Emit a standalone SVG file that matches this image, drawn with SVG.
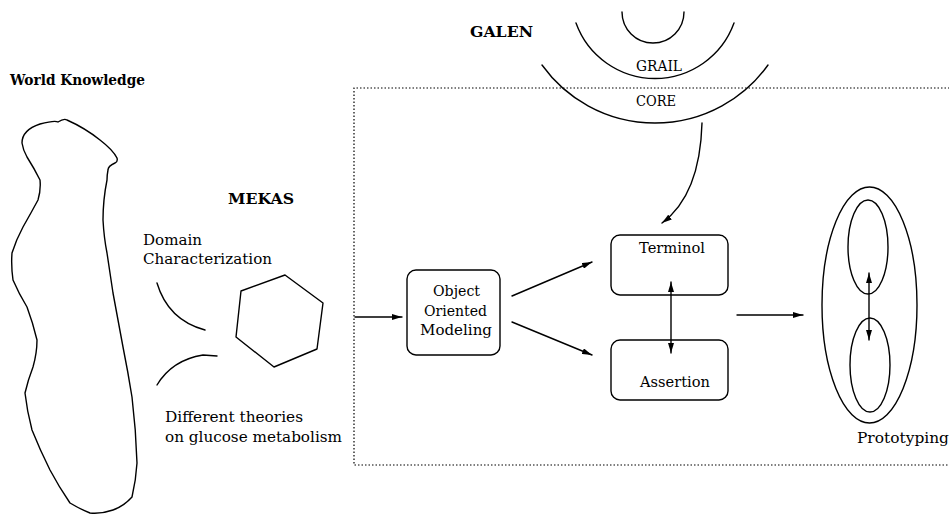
<svg xmlns="http://www.w3.org/2000/svg" width="949" height="515" viewBox="0 0 949 515">
<style>
.ln{fill:none;stroke:#000;stroke-width:1.4;stroke-linecap:round;stroke-linejoin:round}
.t{font-family:"DejaVu Serif","Liberation Serif",serif;font-size:14px;fill:#000}
.b{font-weight:bold}
.dot{fill:none;stroke:#000;stroke-width:1.2;stroke-dasharray:1.5 2}
</style>
<defs>
<marker id="ah" viewBox="0 0 10 6" refX="10" refY="3" markerWidth="10" markerHeight="6" markerUnits="userSpaceOnUse" orient="auto-start-reverse">
<path d="M0,0 L10,3 L0,6 z" fill="#000"/>
</marker>
</defs>
<rect width="949" height="515" fill="#fff"/>

<g id="world-knowledge">
<path class="ln" d="M22,143 Q22,130 40,124 Q55,120 58,122 Q64,118 67,120 Q85,128 100,140 Q113,150 117,158 Q118,162 115,163 Q108,166 108,170 Q107,175 107,180 Q103,200 103,220 Q104,238 107,253 Q110,273 113,293 Q118,320 123,347 Q128,372 132,397 Q136,430 137,463 Q136,480 132,497 Q124,506 113,510 Q102,514 90,513 Q80,509 70,503 Q59,487 50,470 Q40,450 32,430 Q27,411 25,393 Q28,380 33,367 Q37,353 37,340 Q33,323 27,307 Q19,294 13,280 Q11,266 12,253 Q16,240 23,227 Q31,213 38,200 Q41,190 40,180 Q34,168 27,157 Q23,150 22,143 Z"/>
<text class="t b" x="10" y="85" textLength="135" lengthAdjust="spacingAndGlyphs">World Knowledge</text>
</g>

<g id="mekas">
<text class="t b" x="228" y="204" font-size="16" textLength="66" lengthAdjust="spacingAndGlyphs">MEKAS</text>
<polygon class="ln" points="285,275 323,303 317,349 274,367 236,337 241,291"/>
</g>

<g id="domain-characterization">
<path class="ln" d="M157,283 Q168,320 205,330"/>
<text class="t" x="143" y="245" textLength="59" lengthAdjust="spacingAndGlyphs">Domain</text>
<text class="t" x="143" y="264" textLength="129" lengthAdjust="spacingAndGlyphs">Characterization</text>
</g>

<g id="different-theories">
<path class="ln" d="M157,385 Q172,360 203,355 L217,356"/>
<text class="t" x="165" y="422" textLength="138" lengthAdjust="spacingAndGlyphs">Different theories</text>
<text class="t" x="165" y="442" textLength="177" lengthAdjust="spacingAndGlyphs">on glucose metabolism</text>
</g>

<g id="boundary">
<path class="dot" d="M960,88 H354 V465 H960"/>
</g>

<g id="galen">
<text class="t b" x="470" y="37" font-size="16" textLength="63" lengthAdjust="spacingAndGlyphs">GALEN</text>
<path class="ln" d="M622,12 A31,31 0 0 0 684,12"/>
<path class="ln" d="M576,23 A84,84 0 0 0 734,23"/>
<path class="ln" d="M542,65 A139,139 0 0 0 768,65"/>
<text class="t" x="636" y="71" textLength="46" lengthAdjust="spacingAndGlyphs">GRAIL</text>
<text class="t" x="636" y="106" textLength="40" lengthAdjust="spacingAndGlyphs">CORE</text>
</g>

<g id="oom">
<rect class="ln" x="407" y="270" width="93" height="85" rx="9"/>
<text class="t" x="456.5" y="296" text-anchor="middle" textLength="47" lengthAdjust="spacingAndGlyphs">Object</text>
<text class="t" x="455.5" y="316" text-anchor="middle" textLength="63" lengthAdjust="spacingAndGlyphs">Oriented</text>
<text class="t" x="456" y="335" text-anchor="middle" textLength="72" lengthAdjust="spacingAndGlyphs">Modeling</text>
</g>

<g id="terminol">
<rect class="ln" x="611" y="235" width="117" height="60" rx="9"/>
<text class="t" x="639" y="253" textLength="66" lengthAdjust="spacingAndGlyphs">Terminol</text>
</g>

<g id="assertion">
<rect class="ln" x="611" y="340" width="117" height="60" rx="9"/>
<text class="t" x="640" y="387" textLength="70" lengthAdjust="spacingAndGlyphs">Assertion</text>
</g>

<g id="prototyping">
<ellipse class="ln" cx="869.5" cy="305" rx="47.5" ry="118"/>
<ellipse class="ln" cx="868" cy="247" rx="20" ry="47"/>
<ellipse class="ln" cx="870" cy="365" rx="20" ry="47"/>
<text class="t" x="857" y="443" textLength="92" lengthAdjust="spacingAndGlyphs">Prototyping</text>
</g>

<g id="connectors">
<path class="ln" d="M355,317 L402,317" marker-end="url(#ah)"/>
<path class="ln" d="M512,296 L592,262" marker-end="url(#ah)"/>
<path class="ln" d="M512,322 L592,355" marker-end="url(#ah)"/>
<path class="ln" d="M671,282 L671,353" marker-start="url(#ah)" marker-end="url(#ah)"/>
<path class="ln" d="M702,123 Q700,195 662,223" marker-end="url(#ah)"/>
<path class="ln" d="M737,315 L803,315" marker-end="url(#ah)"/>
<path class="ln" d="M869,273 L869,340" marker-start="url(#ah)" marker-end="url(#ah)"/>
</g>
</svg>
